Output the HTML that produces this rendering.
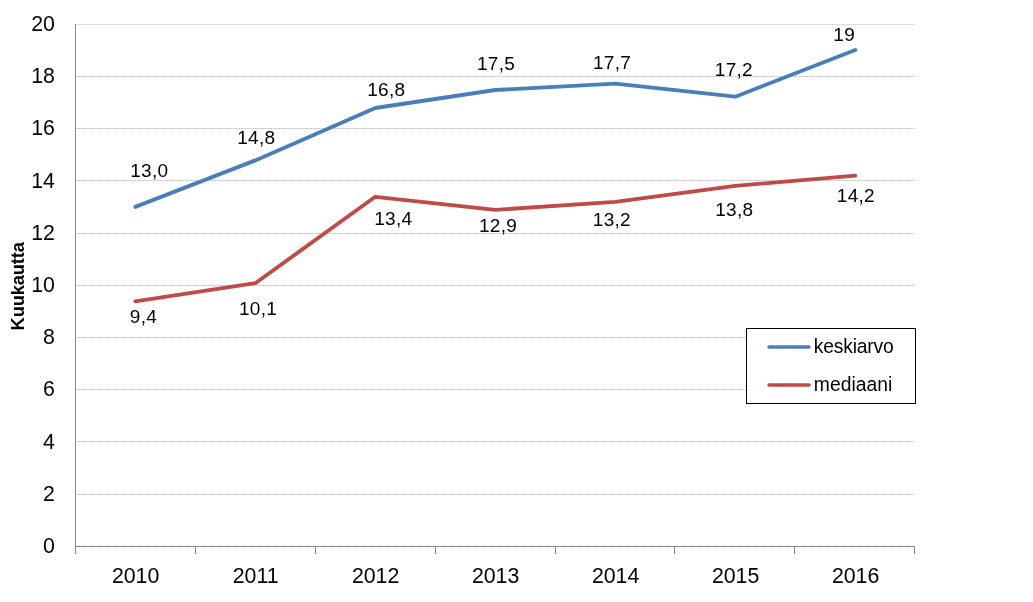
<!DOCTYPE html>
<html><head><meta charset="utf-8"><style>
html,body{margin:0;padding:0;background:#fff;width:1033px;height:602px;overflow:hidden}
svg{position:absolute;left:0;top:0;will-change:transform}
text{font-family:"Liberation Sans",sans-serif;fill:#000}
.ax{font-size:21.3px}
.dl{font-size:19px;letter-spacing:0.3px}
.lg{font-size:19.3px}
.yt{font-size:18.3px;font-weight:bold;letter-spacing:-0.12px}
</style></head><body>
<svg width="1033" height="602" viewBox="0 0 1033 602">
<line x1="76" y1="494.5" x2="915" y2="494.5" stroke="#E1E1E1" stroke-width="1"/>
<line x1="75" y1="494.5" x2="915" y2="494.5" stroke="#C6C6C6" stroke-width="1" stroke-dasharray="1 1"/>
<line x1="76" y1="441.5" x2="915" y2="441.5" stroke="#E1E1E1" stroke-width="1"/>
<line x1="75" y1="441.5" x2="915" y2="441.5" stroke="#C6C6C6" stroke-width="1" stroke-dasharray="1 1"/>
<line x1="76" y1="389.5" x2="915" y2="389.5" stroke="#E1E1E1" stroke-width="1"/>
<line x1="75" y1="389.5" x2="915" y2="389.5" stroke="#C6C6C6" stroke-width="1" stroke-dasharray="1 1"/>
<line x1="76" y1="337.5" x2="915" y2="337.5" stroke="#E1E1E1" stroke-width="1"/>
<line x1="75" y1="337.5" x2="915" y2="337.5" stroke="#C6C6C6" stroke-width="1" stroke-dasharray="1 1"/>
<line x1="76" y1="285.5" x2="915" y2="285.5" stroke="#E1E1E1" stroke-width="1"/>
<line x1="75" y1="285.5" x2="915" y2="285.5" stroke="#C6C6C6" stroke-width="1" stroke-dasharray="1 1"/>
<line x1="76" y1="233.5" x2="915" y2="233.5" stroke="#E1E1E1" stroke-width="1"/>
<line x1="75" y1="233.5" x2="915" y2="233.5" stroke="#C6C6C6" stroke-width="1" stroke-dasharray="1 1"/>
<line x1="76" y1="180.5" x2="915" y2="180.5" stroke="#E1E1E1" stroke-width="1"/>
<line x1="75" y1="180.5" x2="915" y2="180.5" stroke="#C6C6C6" stroke-width="1" stroke-dasharray="1 1"/>
<line x1="76" y1="128.5" x2="915" y2="128.5" stroke="#E1E1E1" stroke-width="1"/>
<line x1="75" y1="128.5" x2="915" y2="128.5" stroke="#C6C6C6" stroke-width="1" stroke-dasharray="1 1"/>
<line x1="76" y1="76.5" x2="915" y2="76.5" stroke="#E1E1E1" stroke-width="1"/>
<line x1="75" y1="76.5" x2="915" y2="76.5" stroke="#C6C6C6" stroke-width="1" stroke-dasharray="1 1"/>
<line x1="76" y1="24.5" x2="915" y2="24.5" stroke="#DCDCDC" stroke-width="1"/>
<line x1="75.5" y1="24" x2="75.5" y2="554" stroke="#878787" stroke-width="1"/>
<line x1="75" y1="546.5" x2="915" y2="546.5" stroke="#949494" stroke-width="1"/>
<line x1="75" y1="546.5" x2="915" y2="546.5" stroke="#767676" stroke-width="1" stroke-dasharray="1 1"/>
<line x1="195.5" y1="547" x2="195.5" y2="554" stroke="#878787" stroke-width="1"/>
<line x1="315.5" y1="547" x2="315.5" y2="554" stroke="#878787" stroke-width="1"/>
<line x1="435.5" y1="547" x2="435.5" y2="554" stroke="#878787" stroke-width="1"/>
<line x1="555.5" y1="547" x2="555.5" y2="554" stroke="#878787" stroke-width="1"/>
<line x1="674.5" y1="547" x2="674.5" y2="554" stroke="#878787" stroke-width="1"/>
<line x1="794.5" y1="547" x2="794.5" y2="554" stroke="#878787" stroke-width="1"/>
<line x1="914.5" y1="547" x2="914.5" y2="554" stroke="#878787" stroke-width="1"/>
<text x="54.9" y="552.9" class="ax" text-anchor="end">0</text>
<text x="54.9" y="500.7" class="ax" text-anchor="end">2</text>
<text x="54.9" y="448.5" class="ax" text-anchor="end">4</text>
<text x="54.9" y="396.3" class="ax" text-anchor="end">6</text>
<text x="54.9" y="344.1" class="ax" text-anchor="end">8</text>
<text x="54.9" y="291.9" class="ax" text-anchor="end">10</text>
<text x="54.9" y="239.7" class="ax" text-anchor="end">12</text>
<text x="54.9" y="187.5" class="ax" text-anchor="end">14</text>
<text x="54.9" y="135.3" class="ax" text-anchor="end">16</text>
<text x="54.9" y="83.1" class="ax" text-anchor="end">18</text>
<text x="54.9" y="30.9" class="ax" text-anchor="end">20</text>
<text x="135.6" y="582.9" class="ax" text-anchor="middle">2010</text>
<text x="255.6" y="582.9" class="ax" text-anchor="middle">2011</text>
<text x="375.6" y="582.9" class="ax" text-anchor="middle">2012</text>
<text x="495.6" y="582.9" class="ax" text-anchor="middle">2013</text>
<text x="615.6" y="582.9" class="ax" text-anchor="middle">2014</text>
<text x="735.6" y="582.9" class="ax" text-anchor="middle">2015</text>
<text x="855.6" y="582.9" class="ax" text-anchor="middle">2016</text>
<polyline points="135.3,206.90 255.3,160.40 375.3,108.00 495.3,90.00 615.3,83.70 735.3,96.70 855.3,50.00" fill="none" stroke="#4A7EBB" stroke-width="3.85" stroke-linejoin="round" stroke-linecap="round"/>
<polyline points="135.3,301.30 255.3,283.20 375.3,196.80 495.3,209.90 615.3,201.80 735.3,185.85 855.3,175.60" fill="none" stroke="#BE4B48" stroke-width="3.85" stroke-linejoin="round" stroke-linecap="round"/>
<text x="149.3" y="177" class="dl" text-anchor="middle">13,0</text>
<text x="256.3" y="144" class="dl" text-anchor="middle">14,8</text>
<text x="386.3" y="96" class="dl" text-anchor="middle">16,8</text>
<text x="496.0" y="70" class="dl" text-anchor="middle">17,5</text>
<text x="612.0" y="69" class="dl" text-anchor="middle">17,7</text>
<text x="733.9" y="76" class="dl" text-anchor="middle">17,2</text>
<text x="844.2" y="41" class="dl" text-anchor="middle">19</text>
<text x="143.5" y="323" class="dl" text-anchor="middle">9,4</text>
<text x="258.1" y="315" class="dl" text-anchor="middle">10,1</text>
<text x="393.3" y="225" class="dl" text-anchor="middle">13,4</text>
<text x="498.0" y="232" class="dl" text-anchor="middle">12,9</text>
<text x="611.9" y="226" class="dl" text-anchor="middle">13,2</text>
<text x="734.3" y="216" class="dl" text-anchor="middle">13,8</text>
<text x="855.9" y="202" class="dl" text-anchor="middle">14,2</text>
<rect x="746.5" y="328.5" width="169" height="75" fill="#fff" stroke="#000" stroke-width="1"/>
<line x1="769" y1="347" x2="809" y2="347" stroke="#4A7EBB" stroke-width="3.5" stroke-linecap="round"/>
<line x1="769" y1="385" x2="809" y2="385" stroke="#BE4B48" stroke-width="3.5" stroke-linecap="round"/>
<text x="813.8" y="353" class="lg" letter-spacing="-0.2">keskiarvo</text>
<text x="813.8" y="391" class="lg" letter-spacing="0.05">mediaani</text>
<text x="0" y="0" class="yt" text-anchor="middle" transform="translate(24,286.3) rotate(-90)">Kuukautta</text>
</svg>
</body></html>
